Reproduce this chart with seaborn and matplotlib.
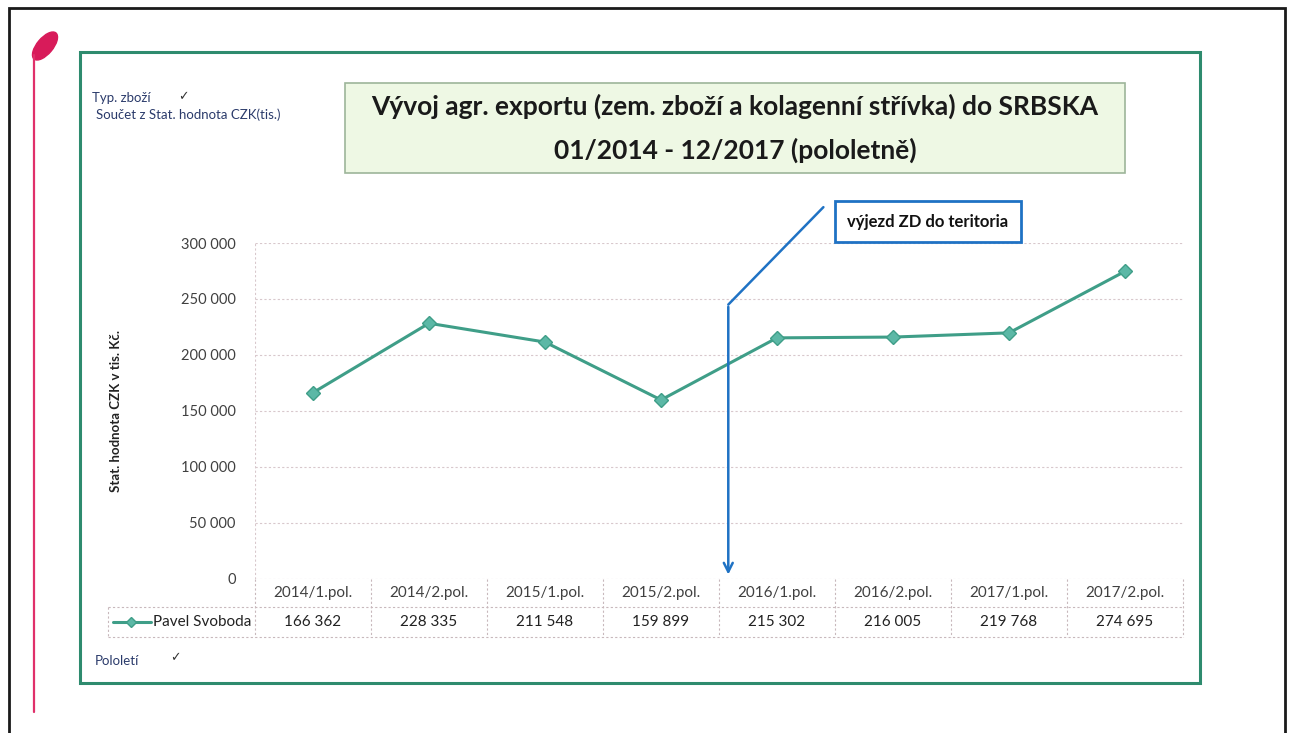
import numpy as np
import pandas as pd
import seaborn as sns
import matplotlib.pyplot as plt
from matplotlib.patches import Rectangle, Ellipse
from matplotlib.lines import Line2D
import matplotlib.transforms as mtransforms

# data
periods = ['2014/1.pol.', '2014/2.pol.', '2015/1.pol.', '2015/2.pol.',
           '2016/1.pol.', '2016/2.pol.', '2017/1.pol.', '2017/2.pol.']
values = [166362, 228335, 211548, 159899, 215302, 216005, 219768, 274695]
series_name = 'Pavel Svoboda'
y_ticks = [0, 50000, 100000, 150000, 200000, 250000, 300000]

df = pd.DataFrame({'period': periods, 'value': values})

sns.set_style("white")
plt.rcParams['font.family'] = ['Lato', 'DejaVu Sans']

line_col = '#3f9e88'
marker_col = '#5cb8a6'
blue = '#1f72c4'
txt_col = '#404040'

fig = plt.figure(figsize=(12.92, 7.33), dpi=100)
W, H = 1292, 733

def fx(px):
    return px / W

def fy(py):
    return 1 - py / H

# ---------------- page decoration ----------------
fig.add_artist(Rectangle((fx(9), fy(760)), fx(1285) - fx(9), fy(8) - fy(760),
                         transform=fig.transFigure, fill=False, ec='#1a1a1a', lw=2))
fig.add_artist(Line2D([fx(34), fx(34)], [fy(55), fy(712)], transform=fig.transFigure,
                      color='#e0306a', lw=1.6))
# leaf at the top of the pink line (pixel based so it stays round)
fig.add_artist(Ellipse((0.45, (H - 46) / 100), 0.34, 0.16, angle=50,
                       transform=fig.dpi_scale_trans, color='#d81b5a'))
fig.add_artist(Rectangle((fx(80), fy(683)), fx(1200) - fx(80), fy(52) - fy(683),
                         transform=fig.transFigure, fill=False, ec='#2e8b6e', lw=2.2))

# title box
fig.add_artist(Rectangle((fx(345), fy(173)), fx(1125) - fx(345), fy(83) - fy(173),
                         transform=fig.transFigure, fc='#eef8e4', ec='#9db59a', lw=1.2))
fig.text(fx(735), fy(106), 'Vývoj agr. exportu (zem. zboží a kolagenní střívka) do SRBSKA',
         ha='center', va='center', fontsize=19, fontweight='bold', color='#1a1a1a')
fig.text(fx(735), fy(150), '01/2014 - 12/2017 (pololetně)',
         ha='center', va='center', fontsize=19, fontweight='bold', color='#1a1a1a')

# pivot field buttons
fig.text(fx(92), fy(98), 'Typ. zboží', fontsize=9.5, color='#2b3b6b', va='center')
fig.text(fx(178), fy(96), '✓', fontsize=9, fontweight='bold', color='#333333', va='center')
fig.text(fx(96), fy(115), 'Součet z Stat. hodnota CZK(tis.)', fontsize=9.5, color='#2b3b6b', va='center')
fig.text(fx(95), fy(661), 'Pololetí', fontsize=9.5, color='#2b3b6b', va='center')
fig.text(fx(170), fy(657), '✓', fontsize=9, fontweight='bold', color='#333333', va='center')

# ---------------- chart ----------------
ax = fig.add_axes([fx(255), fy(579), fx(1183) - fx(255), fy(243) - fy(579)])
sns.lineplot(data=df, x='period', y='value', ax=ax, color=line_col, lw=2.2,
             marker='D', markersize=7, markerfacecolor=marker_col,
             markeredgecolor=line_col, markeredgewidth=1, sort=False)

ax.set_xlim(-0.5, len(periods) - 0.5)
ax.set_ylim(0, 300000)
ax.set_yticks(y_ticks)
ax.set_yticklabels([f'{v:,}'.replace(',', ' ') for v in y_ticks], fontsize=10.5, color=txt_col)
ax.tick_params(axis='y', length=0, pad=14)
ax.set_xticks([])
ax.set_xlabel('')
ax.set_ylabel('Stat. hodnota CZK v tis. Kč.', fontsize=9.5, fontweight='bold',
              color='#222222', labelpad=42)
for s in ax.spines.values():
    s.set_visible(False)
for v in y_ticks:
    ax.axhline(v, color='#d8c8cc', lw=0.8, ls=(0, (2, 2)), zorder=0)
ax.axvline(-0.5, color='#d8c8cc', lw=0.8, ls=(0, (2, 2)), zorder=0)

# ---------------- data table ----------------
trans = mtransforms.blended_transform_factory(ax.transData, ax.transAxes)
ax_h = 579 - 243
r1 = -(607 - 579) / ax_h
r2 = -(637 - 579) / ax_h
grid_kw = dict(color='#c8b8bc', lw=0.8, ls=(0, (2, 2)), clip_on=False)
left_cell = -0.5 - (255 - 108) / ((1183 - 255) / len(periods))

for i, (p, v) in enumerate(zip(periods, values)):
    ax.text(i, r1 / 2, p, transform=trans, ha='center', va='center',
            fontsize=11, color=txt_col)
    ax.text(i, (r1 + r2) / 2, f'{v:,}'.replace(',', ' '), transform=trans,
            ha='center', va='center', fontsize=11, color='#222222')
for b in np.arange(-0.5, len(periods), 1.0):
    ax.plot([b, b], [0, r2], transform=trans, **grid_kw)
ax.plot([left_cell, len(periods) - 0.5], [r1, r1], transform=trans, **grid_kw)
ax.plot([left_cell, len(periods) - 0.5], [r2, r2], transform=trans, **grid_kw)
ax.plot([left_cell, left_cell], [r1, r2], transform=trans, **grid_kw)

# legend key inside table
mid = (r1 + r2) / 2
ax.plot([left_cell + 0.04, left_cell + 0.37], [mid, mid], transform=trans, clip_on=False,
        color=line_col, lw=2.2)
ax.plot([left_cell + 0.2], [mid], transform=trans, clip_on=False, marker='D',
        markersize=5, color=marker_col, markeredgecolor=line_col)
ax.text(left_cell + 0.39, mid, series_name, transform=trans, ha='left', va='center',
        fontsize=11, color='#222222')

# ---------------- annotation ----------------
ax.plot([4.4, 3.58], [332000, 245000], color=blue, lw=1.8, clip_on=False)
ax.annotate('', xy=(3.58, 1500), xytext=(3.58, 245500),
            arrowprops=dict(arrowstyle='->', color=blue, lw=1.8, mutation_scale=16),
            annotation_clip=False)
ax.text(5.3, 319000, 'výjezd ZD do teritoria', ha='center', va='center', fontsize=12,
        fontweight='bold', color='#111111', clip_on=False,
        bbox=dict(boxstyle='square,pad=0.75', fc='white', ec=blue, lw=2))

plt.savefig('out.png', dpi=100)
